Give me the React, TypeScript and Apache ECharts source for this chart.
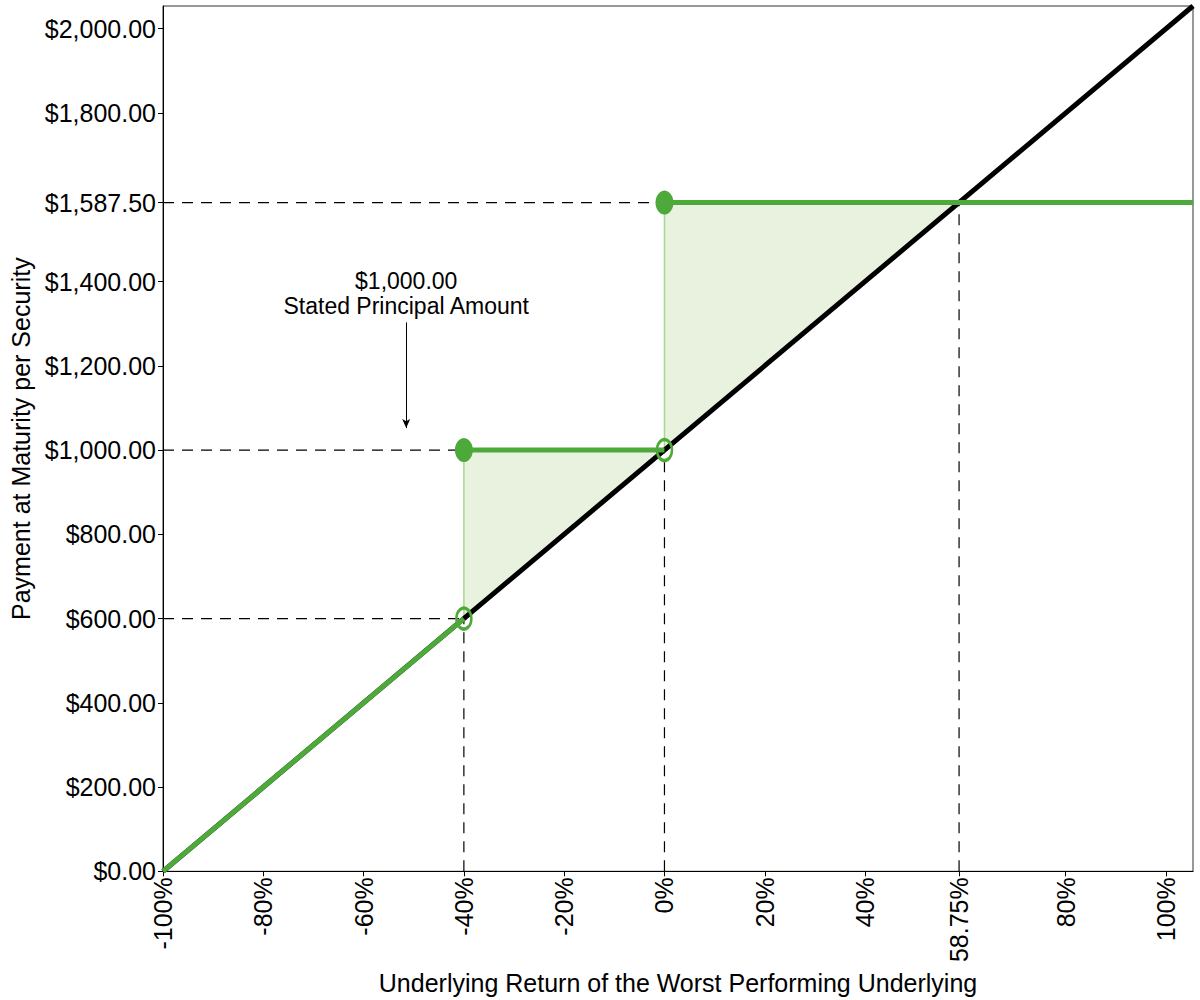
import React, { useEffect, useRef } from "react";
import * as echarts from "echarts";

// ---- data ----
const xTicks = [-100, -80, -60, -40, -20, 0, 20, 40, 58.75, 80, 100];
const yTicks = [0, 200, 400, 600, 800, 1000, 1200, 1400, 1587.5, 1800, 2000];
const xMin = -100;
const xMax = 105.4;
const yMin = 0;
const yMax = 2054;

const underlyingLine = [
  [-100, 0],
  [105.4, 2054],
];
const payoffLow = [
  [-100, 0],
  [-40, 600],
];
const payoffMid = [
  [-40, 1000],
  [0, 1000],
];
const payoffHigh = [
  [0, 1587.5],
  [105.4, 1587.5],
];
const filledPoints = [
  [-40, 1000],
  [0, 1587.5],
];
const openPoints = [
  [-40, 600],
  [0, 1000],
];
const shadedArea = [
  [-40, 600],
  [-40, 1000],
  [0, 1000],
  [0, 1587.5],
  [58.75, 1587.5],
];
const jumpLines = [
  [
    [-40, 600],
    [-40, 1000],
  ],
  [
    [0, 1000],
    [0, 1587.5],
  ],
];
const dashedLines = [
  [
    [-100, 600],
    [-40, 600],
  ],
  [
    [-100, 1000],
    [-40, 1000],
  ],
  [
    [-100, 1587.5],
    [0, 1587.5],
  ],
  [
    [-40, 0],
    [-40, 600],
  ],
  [
    [0, 0],
    [0, 1000],
  ],
  [
    [58.75, 0],
    [58.75, 1587.5],
  ],
];
const annotationText = "$1,000.00\nStated Principal Amount";
const annotationPoint = [-51.5, 1372];
const annotationArrow = [
  [-51.5, 1303],
  [-51.5, 1052],
];

const GREEN = "#4ea93b";
const FONT = "'Liberation Sans', Arial, sans-serif";

export default function App() {
  const ref = useRef<HTMLDivElement>(null);
  useEffect(() => {
    const chart = echarts.init(ref.current!, null, { renderer: "svg" });
    const series: any[] = [];
    series.push({
      type: "custom",
      data: shadedArea,
      silent: true,
      z: 1,
      renderItem: (params: any, api: any) => {
        if (params.dataIndex !== 0) return null;
        const pts = shadedArea.map((p) => api.coord(p));
        return {
          type: "polygon",
          shape: { points: pts },
          style: { fill: "#e9f2df", stroke: "none" },
        };
      },
    });
    jumpLines.forEach((seg) =>
      series.push({
        type: "line",
        data: seg,
        symbol: "none",
        z: 2,
        lineStyle: { color: "#a6d88f", width: 1.5 },
      })
    );
    dashedLines.forEach((seg) =>
      series.push({
        type: "line",
        data: seg,
        symbol: "none",
        z: 3,
        lineStyle: { color: "#000", width: 1.2, type: [11, 8] },
      })
    );
    series.push({
      type: "line",
      data: underlyingLine,
      symbol: "none",
      z: 4,
      lineStyle: { color: "#000", width: 5 },
      markLine: {
        silent: true,
        symbol: ["none", "arrow"],
        symbolSize: [6, 9],
        label: { show: false },
        lineStyle: { color: "#000", width: 1, type: "solid" },
        data: [[{ coord: annotationArrow[0] }, { coord: annotationArrow[1] }]],
      },
    });
    [payoffLow, payoffMid, payoffHigh].forEach((seg) =>
      series.push({
        type: "line",
        data: seg,
        symbol: "none",
        z: 5,
        lineStyle: { color: GREEN, width: 5 },
      })
    );
    series.push({
      type: "scatter",
      data: filledPoints,
      symbol: "circle",
      symbolSize: [18, 24],
      z: 6,
      itemStyle: { color: GREEN, opacity: 1 },
    });
    series.push({
      type: "scatter",
      data: openPoints,
      symbol: "circle",
      symbolSize: [15, 21],
      z: 6,
      itemStyle: {
        color: "transparent",
        borderColor: GREEN,
        borderWidth: 3,
        opacity: 1,
      },
    });
    series.push({
      type: "scatter",
      data: [annotationPoint],
      symbolSize: 0,
      z: 7,
      itemStyle: { opacity: 1 },
      label: {
        show: true,
        position: "inside",
        formatter: annotationText,
        fontSize: 23,
        lineHeight: 25,
        color: "#000",
        opacity: 1,
        fontFamily: FONT,
        align: "center",
        verticalAlign: "middle",
      },
    });

    chart.setOption({
      animation: false,
      backgroundColor: "#fff",
      textStyle: { fontFamily: FONT },
      grid: {
        left: 163,
        right: 7,
        top: 6,
        bottom: 128,
        show: true,
        borderColor: "#333",
        borderWidth: 1,
        containLabel: false,
      },
      xAxis: {
        type: "value",
        min: xMin,
        max: xMax,
        name: "Underlying Return of the Worst Performing Underlying",
        nameLocation: "middle",
        nameGap: 91,
        nameTextStyle: { fontSize: 25, color: "#000", fontFamily: FONT },
        splitLine: { show: false },
        axisLine: { show: true, onZero: false, lineStyle: { color: "#000", width: 1 } },
        axisTick: {
          show: true,
          length: 5,
          customValues: xTicks,
          lineStyle: { color: "#000" },
        },
        axisLabel: {
          customValues: xTicks,
          rotate: 90,
          margin: 6,
          fontSize: 25,
          color: "#000",
          fontFamily: FONT,
          formatter: (v: number) => `${v}%`,
        },
      },
      yAxis: {
        type: "value",
        min: yMin,
        max: yMax,
        name: "Payment at Maturity per Security",
        nameLocation: "middle",
        nameGap: 127,
        nameTextStyle: { fontSize: 25, color: "#000", fontFamily: FONT },
        splitLine: { show: false },
        axisLine: { show: true, onZero: false, lineStyle: { color: "#000", width: 1 } },
        axisTick: {
          show: true,
          length: 5,
          customValues: yTicks,
          lineStyle: { color: "#000" },
        },
        axisLabel: {
          customValues: yTicks,
          margin: 7,
          fontSize: 25,
          color: "#000",
          fontFamily: FONT,
          formatter: (v: number) =>
            "$" +
            v.toLocaleString("en-US", {
              minimumFractionDigits: 2,
              maximumFractionDigits: 2,
            }),
        },
      },
      series,
    });
    return () => chart.dispose();
  }, []);
  return (
    <div
      ref={ref}
      style={{ position: "fixed", left: 0, top: 0, width: 1200, height: 1000, background: "#fff" }}
    />
  );
}
